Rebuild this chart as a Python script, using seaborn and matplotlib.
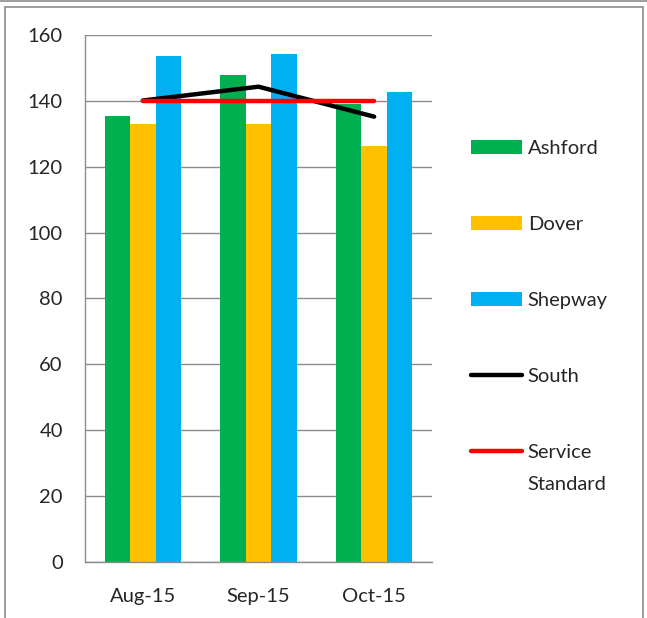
import numpy as np
import pandas as pd
import matplotlib
matplotlib.use("Agg")
import matplotlib.pyplot as plt
from matplotlib.patches import Patch, Rectangle
from matplotlib.lines import Line2D
import seaborn as sns

# chart data
months = ["Aug-15", "Sep-15", "Oct-15"]
ashford = [135.3, 147.7, 138.9]
dover = [133.0, 133.1, 126.3]
shepway = [153.7, 154.1, 142.8]
south = [140.1, 144.3, 135.2]
service_standard = [140, 140, 140]

sites = ["Ashford", "Dover", "Shepway"]
site_colors = ["#00B050", "#FFC000", "#00B0F0"]

df = pd.DataFrame({
    "Month": months * 3,
    "Site": [s for s in sites for _ in months],
    "Value": ashford + dover + shepway,
})

sns.set_style("white")
plt.rcParams["font.family"] = ["Lato", "DejaVu Sans"]
fs = 14.5

fig = plt.figure(figsize=(6.47, 6.18), dpi=100)
ax = fig.add_axes([0.1314, 0.0906, 0.5363, 0.8528])

sns.barplot(data=df, x="Month", y="Value", hue="Site", palette=site_colors,
            width=0.66, saturation=1, linewidth=0, ax=ax, legend=False)

sns.pointplot(x=months, y=south, color="black", markers="", linestyles="-",
              errorbar=None, ax=ax)
sns.pointplot(x=months, y=service_standard, color="#FF0000", markers="", linestyles="-",
              errorbar=None, ax=ax)
for line in ax.lines[-2:]:
    line.set_linewidth(3.2)
    line.set_solid_capstyle("round")
    line.set_solid_joinstyle("round")
# red line drawn on top of black, as in the reference
ax.lines[-1].set_zorder(4)
ax.lines[-2].set_zorder(3)

grid_col = "#8C8C8C"
ax.set_ylim(0, 160)
ax.set_xlim(-0.5, 2.5)
ax.set_yticks(np.arange(0, 161, 20))
ax.yaxis.grid(True, color=grid_col, linewidth=1)
ax.set_axisbelow(True)
ax.set_xlabel("")
ax.set_ylabel("")

for side in ["top", "right"]:
    ax.spines[side].set_visible(False)
for side in ["left", "bottom"]:
    ax.spines[side].set_color(grid_col)
    ax.spines[side].set_linewidth(1)

ax.set_xticks([-0.5, 0.5, 1.5, 2.5], minor=True)
ax.tick_params(axis="x", which="major", length=0, pad=19, labelsize=fs)
ax.tick_params(axis="x", which="minor", length=6, color=grid_col, width=1)
ax.tick_params(axis="y", length=6, color=grid_col, width=1, pad=10, labelsize=fs)

handles = [Patch(facecolor=c, edgecolor="none") for c in site_colors]
handles += [Line2D([], [], color="black", lw=3.2, solid_capstyle="round"),
            Line2D([], [], color="#FF0000", lw=3.2, solid_capstyle="round")]
labels = sites + ["South", "Service"]
leg = fig.legend(handles, labels, loc="upper left", bbox_to_anchor=(0.713, 0.79),
                 frameon=False, fontsize=fs, handlelength=2.5, handleheight=0.7,
                 handletextpad=0.3, labelspacing=2.93, borderpad=0)

# second line of the last legend label, set under "Service" like Excel does
fig.canvas.draw()
bb = leg.get_texts()[-1].get_window_extent()
x0, y0 = fig.transFigure.inverted().transform((bb.x0, bb.y0))
fig.text(x0, y0 - 32 / 618, "Standard", fontsize=fs, ha="left", va="bottom")

# outer chart border
fig.patches.append(Rectangle((5 / 647, -0.01), 638 / 647, 1 - 7 / 618 + 0.01,
                             transform=fig.transFigure, fill=False,
                             edgecolor="#8C8C8C", linewidth=1.2))
fig.patches.append(Rectangle((0, 1 - 2 / 618), 1, 2 / 618,
                             transform=fig.transFigure, facecolor="#A0A0A0",
                             edgecolor="none"))

fig.savefig("out.png", dpi=100)
